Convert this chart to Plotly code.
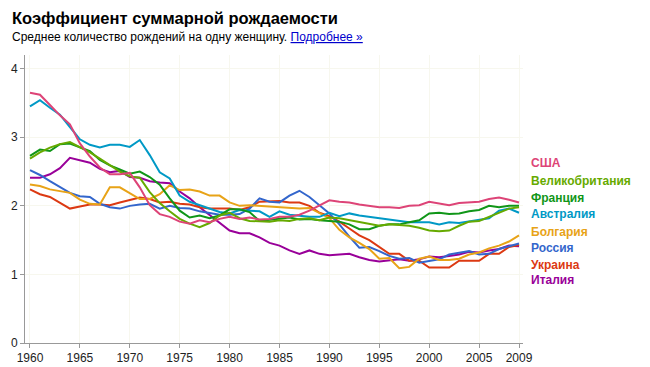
import plotly.graph_objects as go

years = list(range(1960, 2010))

usa = [3.65, 3.62, 3.47, 3.32, 3.19, 2.91, 2.72, 2.56, 2.46, 2.46,
       2.48, 2.27, 2.01, 1.88, 1.84, 1.77, 1.74, 1.79, 1.76, 1.81,
       1.84, 1.81, 1.83, 1.80, 1.81, 1.84, 1.84, 1.87, 1.93, 2.01,
       2.08, 2.06, 2.05, 2.02, 2.00, 1.98, 1.98, 1.97, 2.00, 2.01,
       2.06, 2.03, 2.01, 2.04, 2.05, 2.06, 2.10, 2.12, 2.09, 2.05]
uk = [2.69, 2.78, 2.85, 2.90, 2.93, 2.86, 2.78, 2.69, 2.60, 2.50,
      2.43, 2.41, 2.20, 2.04, 1.92, 1.81, 1.74, 1.69, 1.75, 1.86,
      1.90, 1.82, 1.78, 1.77, 1.77, 1.79, 1.78, 1.81, 1.82, 1.79,
      1.83, 1.82, 1.79, 1.76, 1.74, 1.71, 1.73, 1.72, 1.71, 1.68,
      1.64, 1.63, 1.64, 1.71, 1.77, 1.78, 1.84, 1.90, 1.96, 1.98]
france = [2.73, 2.82, 2.80, 2.90, 2.91, 2.85, 2.80, 2.67, 2.59, 2.53,
          2.47, 2.50, 2.42, 2.31, 2.11, 1.93, 1.83, 1.86, 1.82, 1.86,
          1.95, 1.95, 1.91, 1.78, 1.80, 1.81, 1.83, 1.80, 1.81, 1.79,
          1.78, 1.77, 1.73, 1.66, 1.66, 1.71, 1.73, 1.73, 1.76, 1.79,
          1.89, 1.90, 1.88, 1.89, 1.92, 1.94, 2.00, 1.98, 2.00, 2.00]
australia = [3.45, 3.54, 3.43, 3.33, 3.15, 2.97, 2.89, 2.85, 2.89, 2.89,
             2.86, 2.96, 2.74, 2.49, 2.40, 2.15, 2.06, 2.01, 1.95, 1.91,
             1.89, 1.94, 1.93, 1.92, 1.84, 1.92, 1.87, 1.85, 1.84, 1.84,
             1.90, 1.85, 1.89, 1.86, 1.84, 1.82, 1.80, 1.78, 1.76, 1.76,
             1.76, 1.73, 1.76, 1.75, 1.77, 1.79, 1.82, 1.93, 1.96, 1.90]
bulgaria = [2.31, 2.29, 2.24, 2.21, 2.19, 2.09, 2.03, 2.02, 2.27, 2.27,
            2.18, 2.10, 2.10, 2.17, 2.30, 2.23, 2.24, 2.21, 2.15, 2.15,
            2.05, 2.00, 2.01, 2.00, 1.99, 1.97, 1.96, 1.96, 1.97, 1.90,
            1.82, 1.65, 1.54, 1.46, 1.37, 1.23, 1.24, 1.09, 1.11, 1.23,
            1.26, 1.21, 1.21, 1.23, 1.29, 1.32, 1.38, 1.42, 1.48, 1.57]
russia = [2.52, 2.45, 2.36, 2.28, 2.19, 2.14, 2.13, 2.03, 1.98, 1.96,
          2.00, 2.02, 2.03, 1.96, 2.00, 1.97, 1.96, 1.92, 1.90, 1.87,
          1.87, 1.88, 1.96, 2.11, 2.06, 2.05, 2.15, 2.22, 2.13, 2.01,
          1.89, 1.73, 1.55, 1.39, 1.40, 1.34, 1.27, 1.23, 1.24, 1.17,
          1.20, 1.22, 1.29, 1.32, 1.34, 1.29, 1.30, 1.37, 1.41, 1.45]
ukraine = [2.24, 2.17, 2.13, 2.05, 1.96, 1.99, 2.02, 2.02, 2.01, 2.05,
           2.09, 2.12, 2.10, 2.05, 2.06, 2.03, 2.02, 1.98, 1.96, 1.96,
           1.96, 1.94, 1.98, 2.06, 2.07, 2.07, 2.05, 2.05, 2.00, 1.90,
           1.85, 1.77, 1.67, 1.57, 1.50, 1.40, 1.30, 1.30, 1.20, 1.20,
           1.10, 1.10, 1.10, 1.20, 1.20, 1.20, 1.30, 1.30, 1.40, 1.43]
italy = [2.41, 2.41, 2.46, 2.55, 2.70, 2.67, 2.63, 2.54, 2.49, 2.51,
         2.42, 2.41, 2.36, 2.34, 2.33, 2.21, 2.11, 1.98, 1.87, 1.76,
         1.64, 1.60, 1.60, 1.54, 1.46, 1.42, 1.35, 1.30, 1.35, 1.30,
         1.28, 1.29, 1.30, 1.25, 1.21, 1.19, 1.20, 1.22, 1.20, 1.22,
         1.26, 1.25, 1.27, 1.29, 1.33, 1.32, 1.35, 1.37, 1.42, 1.41]

names = ["США", "Великобритания", "Франция", "Австралия",
         "Болгария", "Россия", "Украина", "Италия"]
series = [usa, uk, france, australia, bulgaria, russia, ukraine, italy]
colors = ["#DD4477", "#66AA00", "#109618", "#0099C6",
          "#E8A317", "#3366CC", "#DC3912", "#990099"]

x_tickvals = [1960, 1965, 1970, 1975, 1980, 1985, 1990, 1995, 2000, 2005, 2009]
y_tickvals = [0, 1, 2, 3, 4]

fig = go.Figure()
for name, vals, col in reversed(list(zip(names, series, colors))):
    fig.add_trace(go.Scatter(x=years, y=vals, mode="lines", name=name,
                             line=dict(color=col, width=2), showlegend=False))

OFF = 8  # default page body margin
W, H = 650 - OFF, 367 - OFF
ml, mr, mt, mb = 25 - OFF, 127, 55 - OFF, 24
PW, PH = W - ml - mr, H - mt - mb
FONT = "Liberation Sans, Arial, sans-serif"


def px_x(px):
    return (px - OFF - ml) / PW


def px_y(py):
    return 1 - (py - OFF - mt) / PH


label_px = [163, 181, 198, 214, 232, 248, 265, 280]
annotations = []
for name, col, py in zip(names, colors, label_px):
    annotations.append(dict(
        x=px_x(529), xref="paper", xanchor="left",
        y=px_y(py), yref="paper", yanchor="middle",
        text="<b>%s</b>" % name, showarrow=False,
        font=dict(family=FONT, size=12, color=col)))

annotations.append(dict(
    x=px_x(10), xref="paper", y=px_y(18), yref="paper", xanchor="left", yanchor="middle",
    text="<b>Коэффициент суммарной рождаемости</b>", showarrow=False,
    font=dict(family=FONT, size=16.5, color="#000000")))
annotations.append(dict(
    x=px_x(10), xref="paper", y=px_y(37), yref="paper", xanchor="left", yanchor="middle",
    text="Среднее количество рождений на одну женщину. "
         "<span style='color:#0000CC;text-decoration:underline'>Подробнее »</span>",
    showarrow=False,
    font=dict(family=FONT, size=12, color="#000000")))

fig.update_layout(
    width=W, height=H,
    margin=dict(l=ml, r=mr, t=mt, b=mb, pad=0, autoexpand=False),
    paper_bgcolor="white", plot_bgcolor="white",
    annotations=annotations,
    font=dict(family=FONT, size=12, color="#222222"),
    xaxis=dict(range=[1959.5, 2009.4], tickvals=x_tickvals,
               ticktext=[str(v) for v in x_tickvals], automargin=False,
               showgrid=True, gridcolor="#F7F7EE", gridwidth=1,
               showline=True, linecolor="#999999", linewidth=1,
               ticks="outside", ticklen=4, tickcolor="#999999",
               zeroline=False, tickfont=dict(size=12, color="#222222")),
    yaxis=dict(range=[0, 4.2], tickvals=y_tickvals, automargin=False,
               showgrid=True, gridcolor="#F7F7EE", gridwidth=1,
               showline=True, linecolor="#999999", linewidth=1,
               ticks="outside", ticklen=4, tickcolor="#999999",
               zeroline=False, tickfont=dict(size=12, color="#222222")),
)

fig.write_html("out.html")
